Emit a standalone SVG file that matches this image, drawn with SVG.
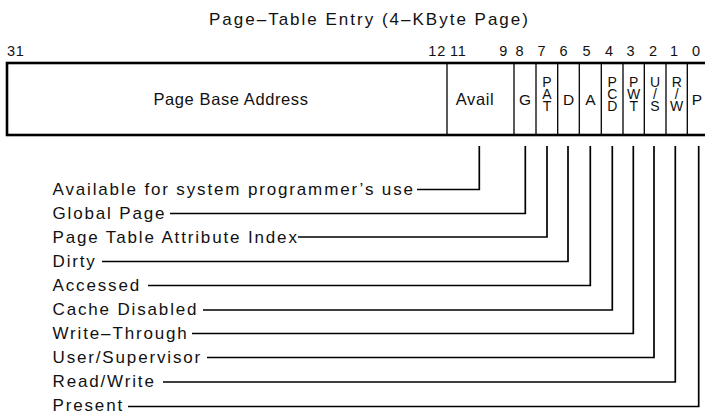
<svg xmlns="http://www.w3.org/2000/svg" width="705" height="414" viewBox="0 0 705 414">
<style>
text{font-family:"Liberation Sans",Arial,Helvetica,sans-serif;fill:#111}
.title{font-size:17px;letter-spacing:2px}
.num{font-size:14.5px;letter-spacing:0.8px}
.cell{font-size:16.5px;letter-spacing:0.6px}
.bit{font-size:15.5px;text-anchor:middle}
.stk{font-size:14px;text-anchor:middle}
.lbl{font-size:17px;letter-spacing:1.85px}
.outer{fill:none;stroke:#000;stroke-width:2.6}
.div{stroke:#000;stroke-width:1.3}
.conn{fill:none;stroke:#000;stroke-width:1.7}
</style>
<rect width="705" height="414" fill="#fff"/>
<text class="title" x="209" y="25">Page–Table Entry (4–KByte Page)</text>
<g id="bitnumbers" class="num">
<text x="7" y="56">31</text>
<text x="446" y="56" text-anchor="end">12</text>
<text x="450" y="56">11</text>
<text x="508" y="56" text-anchor="end">9</text>
<text x="520" y="56" text-anchor="middle">8</text>
<text x="542" y="56" text-anchor="middle">7</text>
<text x="564" y="56" text-anchor="middle">6</text>
<text x="587" y="56" text-anchor="middle">5</text>
<text x="609.5" y="56" text-anchor="middle">4</text>
<text x="631" y="56" text-anchor="middle">3</text>
<text x="653.5" y="56" text-anchor="middle">2</text>
<text x="674.5" y="56" text-anchor="middle">1</text>
<text x="696.5" y="56" text-anchor="middle">0</text>
</g>
<g id="entry">
<rect class="outer" x="7" y="63" width="710" height="72"/>
<line class="div" x1="447" y1="63" x2="447" y2="135"/>
<line class="div" x1="514" y1="63" x2="514" y2="135"/>
<line class="div" x1="536" y1="63" x2="536" y2="135"/>
<line class="div" x1="557.7" y1="63" x2="557.7" y2="135"/>
<line class="div" x1="579.3" y1="63" x2="579.3" y2="135"/>
<line class="div" x1="601.3" y1="63" x2="601.3" y2="135"/>
<line class="div" x1="623" y1="63" x2="623" y2="135"/>
<line class="div" x1="644.3" y1="63" x2="644.3" y2="135"/>
<line class="div" x1="666" y1="63" x2="666" y2="135"/>
<line class="div" x1="687.3" y1="63" x2="687.3" y2="135"/>
</g>
<g id="field-base"><text class="cell" x="231" y="105" text-anchor="middle">Page Base Address</text></g>
<g id="field-avail"><text class="cell" x="475" y="105" text-anchor="middle">Avail</text></g>
<g id="field-g"><text class="bit" x="525" y="105">G</text></g>
<g id="field-pat"><text class="stk"><tspan x="547" y="87.3">P</tspan><tspan x="547" y="99">A</tspan><tspan x="547" y="110.7">T</tspan></text></g>
<g id="field-d"><text class="bit" x="568.5" y="105">D</text></g>
<g id="field-a"><text class="bit" x="590.3" y="105">A</text></g>
<g id="field-pcd"><text class="stk"><tspan x="612.2" y="87.3">P</tspan><tspan x="612.2" y="99">C</tspan><tspan x="612.2" y="110.7">D</tspan></text></g>
<g id="field-pwt"><text class="stk"><tspan x="633.7" y="87.3">P</tspan><tspan x="633.7" y="99">W</tspan><tspan x="633.7" y="110.7">T</tspan></text></g>
<g id="field-us"><text class="stk"><tspan x="655" y="87.3">U</tspan><tspan x="655" y="99">/</tspan><tspan x="655" y="110.7">S</tspan></text></g>
<g id="field-rw"><text class="stk"><tspan x="676.7" y="87.3">R</tspan><tspan x="676.7" y="99">/</tspan><tspan x="676.7" y="110.7">W</tspan></text></g>
<g id="field-p"><text class="bit" x="697" y="105">P</text></g>
<g id="labels" class="lbl">
<text x="52.5" y="195">Available for system programmer’s use</text>
<text x="52.5" y="219">Global Page</text>
<text x="52.5" y="243">Page Table Attribute Index</text>
<text x="52.5" y="267">Dirty</text>
<text x="52.5" y="291">Accessed</text>
<text x="52.5" y="315">Cache Disabled</text>
<text x="52.5" y="339">Write–Through</text>
<text x="52.5" y="363">User/Supervisor</text>
<text x="52.5" y="387">Read/Write</text>
<text x="52.5" y="411">Present</text>
</g>
<g id="connectors" class="conn">
<polyline points="417,189.5 479.3,189.5 479.3,146"/>
<polyline points="170,213.5 525.3,213.5 525.3,146"/>
<polyline points="298,237 547,237 547,146"/>
<polyline points="102,261.5 568,261.5 568,146"/>
<polyline points="148,285.5 590.3,285.5 590.3,146"/>
<polyline points="203,310 612.3,310 612.3,146"/>
<polyline points="192,333.5 633.3,333.5 633.3,146"/>
<polyline points="207,357.5 654,357.5 654,146"/>
<polyline points="163,382 675.3,382 675.3,146"/>
<polyline points="128,406.5 698.7,406.5 698.7,146"/>
</g>
</svg>
